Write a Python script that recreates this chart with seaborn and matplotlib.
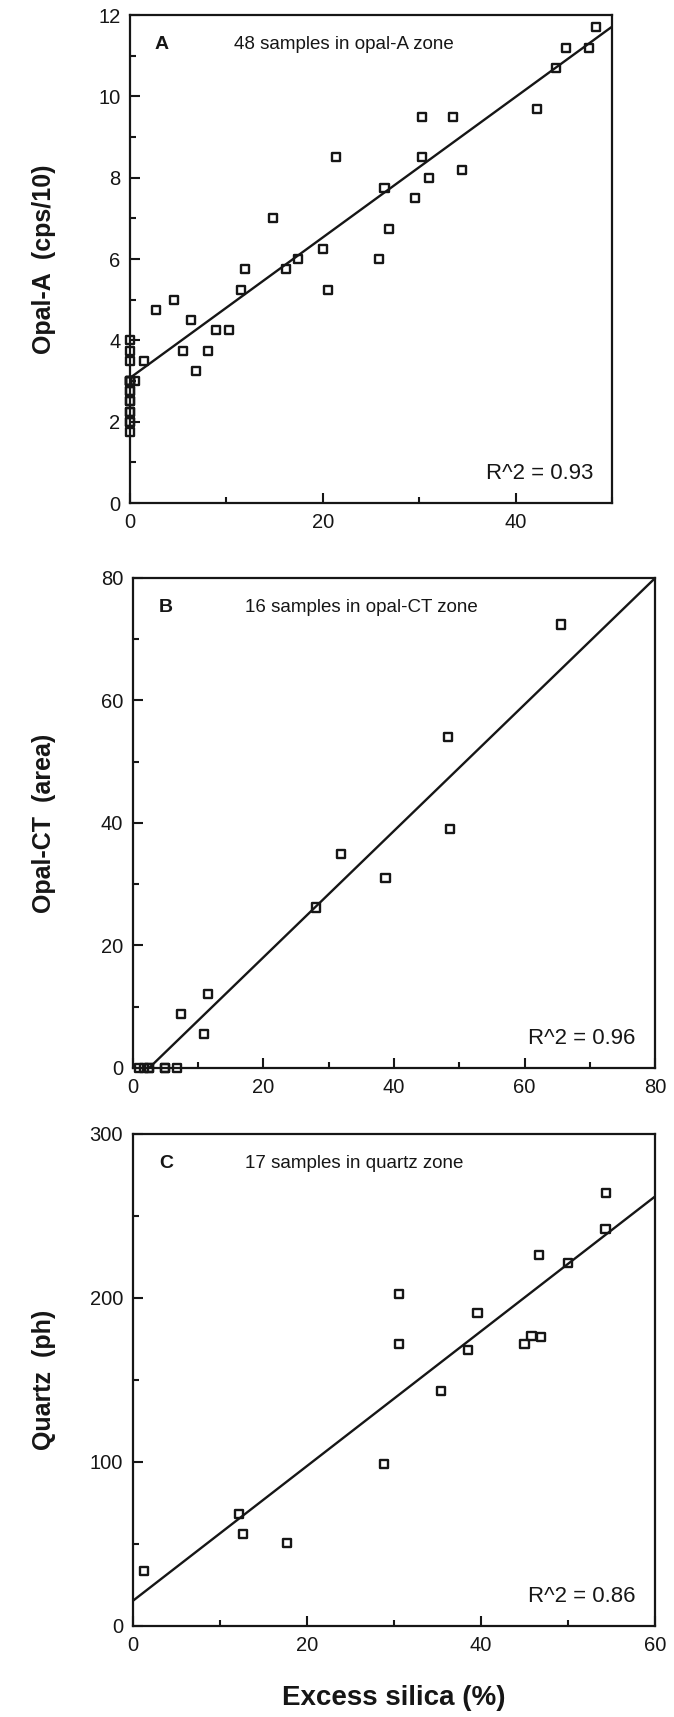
import numpy as np
import pandas as pd
import matplotlib
matplotlib.use("Agg")
import matplotlib.pyplot as plt
from matplotlib.ticker import MultipleLocator
import seaborn as sns

# panel A: opal-A zone, 48 samples
opal_a_silica = [48.3, 45.2, 47.6, 44.2, 42.2, 30.3, 33.5, 21.4, 30.3, 34.4,
                 31.0, 26.4, 29.6, 14.8, 26.9, 20.0, 17.4, 25.8, 16.2, 11.9,
                 11.5, 20.5, 4.6, 2.7, 6.3, 8.9, 10.3, 5.5, 8.1, 1.4,
                 6.8, 0.5,
                 0, 0, 0, 0, 0, 0, 0, 0, 0, 0, 0, 0, 0, 0, 0, 0]
opal_a_cps = [11.7, 11.2, 11.2, 10.7, 9.7, 9.5, 9.5, 8.5, 8.5, 8.2,
              8.0, 7.75, 7.5, 7.0, 6.75, 6.25, 6.0, 6.0, 5.75, 5.75,
              5.25, 5.25, 5.0, 4.75, 4.5, 4.25, 4.25, 3.75, 3.75, 3.5,
              3.25, 3.0,
              4.0, 3.75, 3.5, 3.0, 3.0, 3.0, 3.0, 2.75, 2.75, 2.5, 2.5,
              2.25, 2.25, 2.0, 2.0, 1.75]

# panel B: opal-CT zone, 16 samples
opal_ct_silica = [65.6, 48.3, 48.6, 31.9, 38.7, 28.1, 11.5, 7.4, 10.9,
                  0.9, 1.7, 2.5, 2.5, 5.0, 5.0, 6.8]
opal_ct_area = [72.4, 54.0, 39.0, 35.0, 31.0, 26.2, 12.1, 8.8, 5.5,
                0, 0, 0, 0, 0, 0, 0]

# panel C: quartz zone, 17 samples
quartz_silica = [54.4, 54.3, 46.7, 50.0, 30.6, 39.6, 30.6, 38.5, 45.0,
                 45.8, 46.9, 35.4, 28.9, 12.2, 12.7, 17.7, 1.3]
quartz_ph = [264, 242, 226, 221.5, 202.5, 191, 172, 168, 172,
             177, 176, 143.5, 98.5, 68.5, 56, 50.5, 33.5]

# regression lines (intercept, slope)
fit_a = (3.08, 0.1727)
fit_b = (-2.58, 1.032)
fit_c = (15.3, 4.11)

sns.set_style("ticks")
plt.rcParams["font.family"] = ["Liberation Sans", "DejaVu Sans"]
ink = "#161616"

fig = plt.figure(figsize=(6.74, 17.17), dpi=100)


def panel(rect, x, y, fit, xmax, ymax, xmaj, xmin, ymaj, ymin,
          letter, note, r2, ylabel):
    ax = fig.add_axes(rect)
    df = pd.DataFrame({"silica": x, "value": y})
    xs = np.array([0.0, xmax])
    line = pd.DataFrame({"silica": xs, "value": fit[0] + fit[1] * xs})
    sns.lineplot(data=line, x="silica", y="value", ax=ax, color=ink, lw=1.7)
    sns.scatterplot(data=df, x="silica", y="value", ax=ax, marker="s", s=34,
                    facecolor="none", edgecolor=ink, linewidth=1.7,
                    zorder=3, clip_on=False)
    ax.set_xlim(0, xmax)
    ax.set_ylim(0, ymax)
    ax.xaxis.set_major_locator(MultipleLocator(xmaj))
    ax.xaxis.set_minor_locator(MultipleLocator(xmin))
    ax.yaxis.set_major_locator(MultipleLocator(ymaj))
    ax.yaxis.set_minor_locator(MultipleLocator(ymin))
    ax.tick_params(which="both", direction="in", colors=ink, width=1.5,
                   labelsize=14.5, top=False, right=False)
    ax.tick_params(which="major", length=7, pad=7)
    ax.tick_params(which="minor", length=4)
    for sp in ax.spines.values():
        sp.set_visible(True)
        sp.set_linewidth(1.6)
        sp.set_color(ink)
    ax.set_xlabel("")
    ax.set_ylabel(ylabel, fontsize=18, fontweight="bold", color=ink)
    left_px = rect[0] * 674
    width_px = rect[2] * 674
    ax.yaxis.set_label_coords((56 - left_px) / width_px, 0.5)
    ax.text(0.05, 0.94, letter, transform=ax.transAxes, fontsize=14,
            fontweight="bold", color=ink, va="center", ha="left")
    ax.text(0.215, 0.94, note, transform=ax.transAxes, fontsize=13.5,
            color=ink, va="center", ha="left")
    ax.text(0.962, 0.06, r2, transform=ax.transAxes, fontsize=16,
            color=ink, va="center", ha="right")
    return ax


panel([0.193, 0.707, 0.715, 0.2842], opal_a_silica, opal_a_cps, fit_a,
      50, 12, 20, 10, 2, 1, "A", "48 samples in opal-A zone",
      "R^2 = 0.93", "Opal-A  (cps/10)")
panel([0.197, 0.378, 0.775, 0.2854], opal_ct_silica, opal_ct_area, fit_b,
      80, 80, 20, 10, 20, 10, "B", "16 samples in opal-CT zone",
      "R^2 = 0.96", "Opal-CT  (area)")
axc = panel([0.197, 0.053, 0.775, 0.2866], quartz_silica, quartz_ph, fit_c,
            60, 300, 20, 10, 100, 50, "C", "17 samples in quartz zone",
            "R^2 = 0.86", "Quartz  (ph)")
axc.set_xlabel("Excess silica (%)", fontsize=20, fontweight="bold", color=ink)
axc.xaxis.set_label_coords(0.5, -0.12)

fig.savefig("out.png", dpi=100, facecolor="white")
